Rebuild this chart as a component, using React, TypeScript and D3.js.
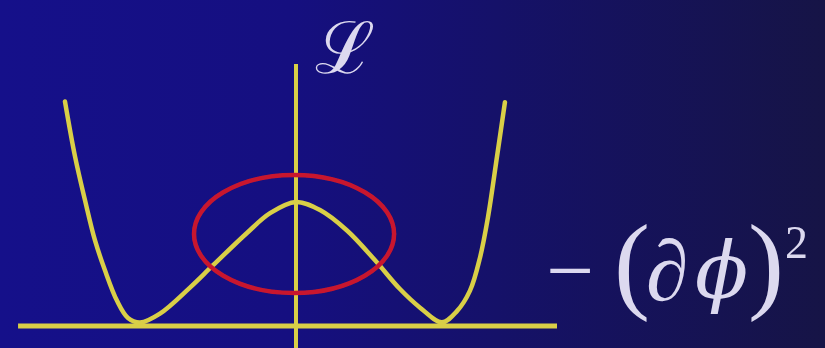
import React from "react";
import * as d3 from "d3";

// Potential curve L(φ): sampled points along the double-well
const phiValues = [-1.54, -1.473, -1.407, -1.34, -1.273, -1.193, -1.12, -1.04, -0.907, -0.707, -0.553, -0.327, -0.173, 0, 0.16, 0.34, 0.527, 0.693, 0.827, 0.973, 1.073, 1.16, 1.227, 1.28, 1.34, 1.393];
const lagrangianValues = [1.81, 1.366, 1.016, 0.69, 0.447, 0.203, 0.065, 0.028, 0.1, 0.31, 0.49, 0.75, 0.91, 1.0, 0.935, 0.77, 0.53, 0.298, 0.148, 0.03, 0.12, 0.285, 0.553, 0.878, 1.366, 1.805];

// Axis extents in data units
const phiAxisRange = [-1.853, 1.74];
const lagrangianAxisRange = [-0.2, 2.113];

// Highlighted region around the maximum
const highlightCenter = [-0.013, 0.742];
const highlightRadii = [0.667, 0.476];

const W = 825;
const H = 348;
const YELLOW = "#d9cf46";
const RED = "#c8192e";
const TEXT = "#dcd9ef";

export default function App() {
  const x = d3.scaleLinear().domain([-2, 2]).range([-4, 596]);
  const y = d3.scaleLinear().domain([0, 1]).range([326, 202]);

  const pts: [number, number][] = phiValues.map((p, i) => [p, lagrangianValues[i]]);
  const line = d3
    .line<[number, number]>()
    .x((d) => x(d[0]))
    .y((d) => y(d[1]))
    .curve(d3.curveCatmullRom.alpha(0.5));

  const cx = x(highlightCenter[0]);
  const cy = y(highlightCenter[1]);
  const rx = x(highlightRadii[0]) - x(0);
  const ry = y(0) - y(highlightRadii[1]);

  return (
    <svg
      width={W}
      height={H}
      style={{ position: "absolute", left: 0, top: 0, display: "block" }}
    >
      <defs>
        <linearGradient id="bg" x1="0" y1="0" x2="1" y2="0">
          <stop offset="0" stopColor="#15108a" />
          <stop offset="0.35" stopColor="#150f80" />
          <stop offset="0.6" stopColor="#151169" />
          <stop offset="1" stopColor="#161446" />
        </linearGradient>
        <filter id="soft" x="-5%" y="-5%" width="110%" height="110%">
          <feGaussianBlur stdDeviation="0.5" />
        </filter>
      </defs>
      <rect x={0} y={0} width={W} height={H} fill="url(#bg)" />

      <g filter="url(#soft)">
        {/* axes */}
        <line
          x1={x(phiAxisRange[0])}
          x2={x(phiAxisRange[1])}
          y1={y(0)}
          y2={y(0)}
          stroke={YELLOW}
          strokeWidth={5}
        />
        <line
          x1={x(0)}
          x2={x(0)}
          y1={y(lagrangianAxisRange[1])}
          y2={y(lagrangianAxisRange[0])}
          stroke={YELLOW}
          strokeWidth={4}
        />

        {/* potential curve */}
        <path
          d={line(pts) ?? ""}
          fill="none"
          stroke={YELLOW}
          strokeWidth={4.5}
          strokeLinecap="round"
          strokeLinejoin="round"
        />

        {/* highlight ellipse */}
        <ellipse
          cx={cx}
          cy={cy}
          rx={rx}
          ry={ry}
          fill="none"
          stroke={RED}
          strokeWidth={4.5}
        />
      </g>

      {/* labels */}
      <g fill={TEXT} filter="url(#soft)">
        <text x={315} y={73} fontFamily="DejaVu Serif" fontSize={72}>
          ℒ
        </text>
        <text x={546} y={299} fontFamily="Liberation Serif" fontSize={85}>
          −
        </text>
        <text x={614} y={299} fontFamily="Liberation Serif" fontSize={108}>
          (
        </text>
        <text
          x={646}
          y={300}
          fontFamily="Liberation Serif"
          fontStyle="italic"
          fontSize={86}
        >
          ∂
        </text>
        <text
          x={695}
          y={298}
          fontFamily="DejaVu Serif"
          fontStyle="italic"
          fontSize={78}
        >
          ϕ
        </text>
        <text x={748} y={299} fontFamily="Liberation Serif" fontSize={108}>
          )
        </text>
        <text x={785} y={258} fontFamily="Liberation Serif" fontSize={46}>
          2
        </text>
      </g>
    </svg>
  );
}
